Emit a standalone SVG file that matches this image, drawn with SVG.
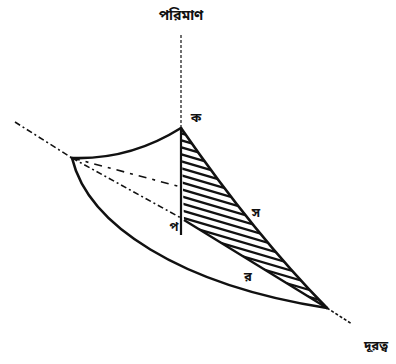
<svg xmlns="http://www.w3.org/2000/svg" width="396" height="364" viewBox="0 0 396 364">
<style>
.lbl{font-family:"Noto Sans Bengali","Noto Sans","DejaVu Sans",sans-serif;fill:#111;font-weight:bold}
.thick{fill:none;stroke:#111;stroke-width:2.6;stroke-linecap:round}
.hatch{stroke:#111;stroke-width:2.2}
</style>
<defs>
<clipPath id="tri"><path d="M181,128 Q255,235 327,308 L184,220 Z"/></clipPath>
</defs>
<rect width="396" height="364" fill="#fff"/>
<g id="connectors">
<line x1="181" y1="35" x2="181" y2="128" stroke="#111" stroke-width="1.2" stroke-dasharray="3 2"/>
<line x1="15" y1="122" x2="72" y2="158" stroke="#111" stroke-width="1.6" stroke-dasharray="6 3 2 3"/>
<path class="thick" d="M72,158 Q130,160 181,128"/>
<line x1="72" y1="158" x2="181" y2="187" stroke="#111" stroke-width="1.6" stroke-dasharray="8 6 3 6"/>
<line x1="72" y1="158" x2="181" y2="218" stroke="#111" stroke-width="1.6" stroke-dasharray="6 3 2 3"/>
<path class="thick" d="M72,158 C88,225 180,285 327,308"/>
<line x1="327" y1="308" x2="352" y2="324" stroke="#111" stroke-width="1.6" stroke-dasharray="3 2"/>
</g>
<g id="shaded">
<g clip-path="url(#tri)">
<g class="hatch">
<line x1="170" y1="130" x2="340" y2="180"/>
<line x1="170" y1="137" x2="340" y2="187"/>
<line x1="170" y1="144" x2="340" y2="194"/>
<line x1="170" y1="151" x2="340" y2="201"/>
<line x1="170" y1="158" x2="340" y2="208"/>
<line x1="170" y1="165" x2="340" y2="215"/>
<line x1="170" y1="172" x2="340" y2="222"/>
<line x1="170" y1="179" x2="340" y2="229"/>
<line x1="170" y1="186" x2="340" y2="236"/>
<line x1="170" y1="193" x2="340" y2="243"/>
<line x1="170" y1="200" x2="340" y2="250"/>
<line x1="170" y1="207" x2="340" y2="257"/>
<line x1="170" y1="214" x2="340" y2="264"/>
<line x1="170" y1="221" x2="340" y2="271"/>
<line x1="170" y1="228" x2="340" y2="278"/>
<line x1="170" y1="235" x2="340" y2="285"/>
<line x1="170" y1="242" x2="340" y2="292"/>
<line x1="170" y1="249" x2="340" y2="299"/>
<line x1="170" y1="256" x2="340" y2="306"/>
<line x1="170" y1="263" x2="340" y2="313"/>
</g>
</g>
<path class="thick" d="M181,128 Q255,235 327,308"/>
<line x1="184" y1="220" x2="327" y2="308" stroke="#111" stroke-width="2.4"/>
<line x1="181" y1="128" x2="181" y2="235" stroke="#111" stroke-width="2.2"/>
</g>
<g id="labels">
<text class="lbl" x="181" y="20" font-size="14" text-anchor="middle">পরিমাণ</text>
<text class="lbl" x="196" y="122" font-size="13" text-anchor="middle">ক</text>
<text class="lbl" x="256" y="217" font-size="13" text-anchor="middle">স</text>
<text class="lbl" x="248" y="281" font-size="13" text-anchor="middle">র</text>
<text class="lbl" x="174" y="231" font-size="12" text-anchor="middle">প</text>
<text class="lbl" x="376" y="350" font-size="13" text-anchor="middle">দূরত্ব</text>
</g>
</svg>
